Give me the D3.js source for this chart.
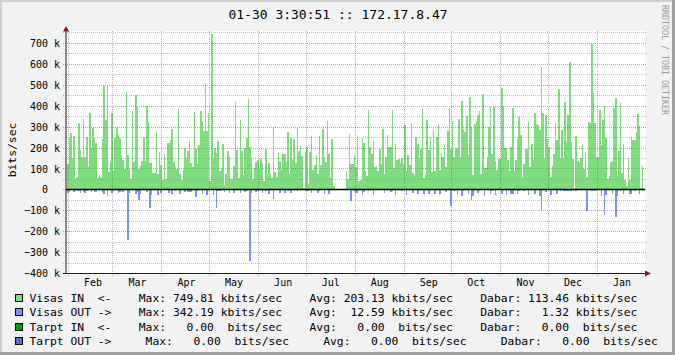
<!DOCTYPE html>
<html>
<head>
<meta charset="utf-8">
<script src="https://cdn.jsdelivr.net/npm/d3@7"></script>
<style>
  html, body { margin: 0; padding: 0; background: #fff; }
  svg { display: block; }
  text { font-family: "DejaVu Sans Mono", monospace; white-space: pre; }
</style>
</head>
<body>
<script>
// daily traffic, kbits/sec, one array per month (first one is the last day of the previous January)
const inJan17 = [124];
const inFeb = [250,271,150,257,52,60,319,190,155,338, 155,252,110,367,198,297,248,224,56,71, 63,243,495,333,495,86,135,367];
const inMar = [92,246,300,262,248,167,143,100,467,167, 100,52,376,133,452,398,100,114,138,252, 138,400,324,129,129,81,81,281,78,181, 119];
const inApr = [48,171,52,224,224,237,290,133,110,100, 386,78,48,95,198,152,186,233,129,110, 371,195,124,214,376,324,281,509,281,365];
const inMay = [43,747,148,198,176,233,90,100,219,24, 76,186,157,52,52,114,419,190,57,333, 186,71,200,248,433,205,148,52,105,133, 143];
const inJun = [100,148,129,43,195,76,129,76,57,300, 86,62,176,138,95,171,171,133,276,76, 248,148,243,129,295,186,210,162,10,181];
const inJul = [205,29,181,257,95,119,167,76,257,119, 290,157,133,329,171,62,243,19,0,0, 0,0,0,0,0,90,52,267,124,124, 167];
const inAug = [110,257,43,48,248,224,90,67,381,205, 171,233,110,114,90,195,124,290,76,157, 262,205,205,381,105,219,143,148,129,152, 124];
const inSep = [310,92,167,119,319,81,71,252,219,148, 195,386,57,71,333,190,252,86,286,90, 252,310,95,176,157,214,110,281,390,195];
const inOct = [329,157,200,195,338,157,424,290,276,352, 167,443,300,71,314,329,357,376,76,457, 105,105,157,300,400,171,395,138,95,148, 148];
const inNov = [486,400,202,200,143,92,205,390,92,143, 243,348,262,62,124,195,195,324,110,219, 143,367,314,310,286,586,367,152,357,243];
const inDec = [205,60,114,171,319,238,481,152,287,152, 419,229,357,610,229,148,5,257,138,129, 152,214,100,181,59,322,319,697,462,319, 157];
const inJan18 = [157,381,214,332,400,248,52,67,133,138, 390,440,67,186,414,81,219,48,16,152, 48,252,238,238,276,362,305,10,114,10];

const outJan17 = [17];
const outFeb = [8,0,0,11,0,0,6,16,0,8, 14,6,0,0,11,0,8,8,0,0, 0,11,21,0,30,0,0,14];
const outMar = [6,0,0,14,8,6,11,0,0,240, 14,0,0,0,21,8,49,21,0,0, 0,11,0,87,25,0,0,0,25,0, 16];
const outApr = [0,0,0,0,16,0,21,0,6,0, 0,21,0,0,11,0,11,11,11,0, 0,35,6,0,0,21,0,0,25,6];
const outMay = [0,0,25,0,87,6,6,0,0,11, 0,0,16,0,0,16,0,0,0,16, 0,0,11,6,0,341,16,0,0,11, 6];
const outJun = [0,0,16,0,6,0,21,0,0,44, 0,0,0,16,0,0,16,0,6,0, 16,0,0,0,6,0,0,3,0,6];
const outJul = [6,6,0,16,0,0,0,16,6,0, 0,21,0,0,21,0,0,0,0,0, 0,0,0,0,0,0,0,0,54,0, 6];
const outAug = [16,16,0,0,25,11,0,0,6,0, 0,25,0,0,0,0,0,0,16,0, 0,0,11,6,0,25,0,0,0,6, 0];
const outSep = [0,25,0,0,0,16,0,0,21,0, 0,0,21,0,0,21,6,0,0,21, 0,0,21,0,0,0,11,0,0,78];
const outOct = [0,6,0,21,0,0,30,6,0,0, 21,0,49,30,0,0,16,6,0,0, 30,0,0,0,21,6,0,25,0,0, 0];
const outNov = [21,6,0,25,0,0,21,21,0,0, 21,6,0,0,6,0,0,25,0,0, 0,21,0,0,30,97,0,0,11,0];
const outDec = [0,25,0,0,0,21,0,6,0,6, 6,6,6,6,6,0,0,6,0,0, 0,0,0,0,102,0,0,6,0,6, 0];
const outJan18 = [0,0,30,0,121,25,0,0,0,21, 0,130,30,0,6,0,21,0,0,0, 21,21,0,6,0,0,21,0,6,0];

const inMonths = [inJan17, inFeb, inMar, inApr, inMay, inJun, inJul, inAug, inSep, inOct, inNov, inDec, inJan18];
const outMonths = [outJan17, outFeb, outMar, outApr, outMay, outJun, outJul, outAug, outSep, outOct, outNov, outDec, outJan18];

const yTicks = [-400,-300,-200,-100,0,100,200,300,400,500,600,700];
const monthLabels = ['Feb','Mar','Apr','May','Jun','Jul','Aug','Sep','Oct','Nov','Dec','Jan'];

const titleText = '01-30 3:30:51 :: 172.17.8.47';
const yTitle = 'bits/sec';
const watermark = 'RRDTOOL / TOBI OETIKER';

const legendNames = ['Visas IN  <-', 'Visas OUT ->', 'Tarpt IN  <-', 'Tarpt OUT ->'];
const legendColors = ['#7fdd7f', '#7f8fff', '#00a000', '#5070c0'];
const legendMax = [749.81, 342.19, 0, 0];
const legendAvg = [203.13, 12.59, 0, 0];
const legendNow = [113.46, 1.32, 0, 0];
const legendPrefix = ['k', 'k', ' ', ' '];
const legendGap = [4, 4, 4, 5];

const W = 675, H = 355;
const svg = d3.select('body').append('svg').attr('width', W).attr('height', H);

// frame
svg.append('rect').attr('width', W).attr('height', H).attr('fill', '#f2f2f2');
svg.append('rect').attr('width', W).attr('height', 2).attr('fill', '#cfcfcf');
svg.append('rect').attr('width', 2).attr('height', H).attr('fill', '#cfcfcf');
svg.append('rect').attr('x', W - 3).attr('width', 3).attr('height', H).attr('fill', '#9e9e9e');
svg.append('rect').attr('y', H - 3).attr('width', W).attr('height', 3).attr('fill', '#9e9e9e');

const tStart = new Date(Date.UTC(2017, 0, 30, 3, 30, 51));
const tEnd = new Date(Date.UTC(2018, 0, 30, 3, 30, 51));
const x = d3.scaleUtc().domain([tStart, tEnd]).range([65.6, 643.7]);
const y = d3.scaleLinear().domain([-400, 757]).range([273.5, 31.5]);

// canvas
svg.append('rect').attr('x', 66).attr('y', 31).attr('width', 579).attr('height', 243).attr('fill', '#fff');

// flatten months into daily points
const monthStarts = [new Date(Date.UTC(2017, 0, 31))].concat(
  d3.utcMonth.range(new Date(Date.UTC(2017, 1, 1)), new Date(Date.UTC(2018, 0, 2))));
const days = [];
inMonths.forEach((arr, m) => {
  arr.forEach((v, k) => {
    days.push({t: d3.utcDay.offset(monthStarts[m], k), vin: v, vout: outMonths[m][k]});
  });
});
const last = days[days.length - 1];
days.push({t: d3.utcDay.offset(last.t, 1), vin: last.vin, vout: last.vout});

svg.append('clipPath').attr('id', 'plotclip')
  .append('rect').attr('x', x(tStart)).attr('y', 25)
  .attr('width', x(tEnd) - x(tStart)).attr('height', 260);

const plot = svg.append('g').attr('clip-path', 'url(#plotclip)');

const areaIn = d3.area().curve(d3.curveStepAfter)
  .x(d => x(d.t)).y0(y(0)).y1(d => y(d.vin));
const areaOut = d3.area().curve(d3.curveStepAfter)
  .x(d => x(d.t)).y0(y(0)).y1(d => y(-d.vout));

plot.append('path').datum(days).attr('d', areaIn)
  .attr('fill', legendColors[0]).attr('shape-rendering', 'crispEdges');
plot.append('path').datum(days).attr('d', areaOut)
  .attr('fill', legendColors[1]).attr('shape-rendering', 'crispEdges');

// grid
const snap = v => Math.floor(v) + 0.5;
const grid = svg.append('g');
const minor = d3.range(-350, 757, 100);
grid.selectAll('.minor').data(minor).enter().append('line')
  .attr('x1', 63).attr('x2', 646)
  .attr('y1', d => snap(y(d))).attr('y2', d => snap(y(d)))
  .attr('stroke', 'rgba(143,143,143,0.55)').attr('stroke-dasharray', '1,1');
grid.selectAll('.major').data(yTicks.filter(d => d !== -400)).enter().append('line')
  .attr('x1', 63).attr('x2', 646)
  .attr('y1', d => snap(y(d))).attr('y2', d => snap(y(d)))
  .attr('stroke', 'rgba(222,79,79,0.6)').attr('stroke-dasharray', '1,1');
const monthTicks = d3.utcMonth.range(tStart, tEnd);
grid.selectAll('.vmajor').data(monthTicks).enter().append('line')
  .attr('x1', d => snap(x(d))).attr('x2', d => snap(x(d)))
  .attr('y1', 31).attr('y2', 277)
  .attr('stroke', 'rgba(222,79,79,0.6)').attr('stroke-dasharray', '1,1');

// zero line
svg.append('line').attr('x1', 66).attr('x2', 645)
  .attr('y1', snap(y(0))).attr('y2', snap(y(0)))
  .attr('stroke', '#000').attr('stroke-width', 1.3);

// axes
svg.append('line').attr('x1', 66).attr('x2', 66).attr('y1', 274).attr('y2', 30)
  .attr('stroke', '#1f1f1f').attr('stroke-width', 1);
svg.append('line').attr('x1', 63).attr('x2', 646).attr('y1', 273.5).attr('y2', 273.5)
  .attr('stroke', '#1f1f1f').attr('stroke-width', 1);
svg.append('polygon').attr('points', '63,31.5 69,31.5 66,26')
  .attr('fill', '#801f1f');
svg.append('polygon').attr('points', '645,270.5 645,276.5 651,273.5')
  .attr('fill', '#801f1f');

// y labels
svg.append('g').selectAll('text').data(yTicks).enter().append('text')
  .attr('x', 60).attr('y', d => y(d) + 3.6)
  .attr('text-anchor', 'end').attr('font-size', 10)
  .text(d => d === 0 ? '0  ' : d3.format('d')(d) + ' k');

// x labels
svg.append('g').selectAll('text').data(monthTicks).enter().append('text')
  .attr('x', d => x(d3.utcHour.offset(d, 15 * 24 + 12)))
  .attr('y', 285.5).attr('text-anchor', 'middle').attr('font-size', 10)
  .text((d, i) => monthLabels[i]);

// title
svg.append('text').attr('x', 338).attr('y', 18.5).attr('text-anchor', 'middle')
  .attr('font-size', 13).text(titleText);

// y title
svg.append('text').attr('transform', 'translate(16,150) rotate(-90)')
  .attr('text-anchor', 'middle').attr('font-size', 11.35).text(yTitle);

// watermark
svg.append('text').attr('transform', 'translate(662,5) rotate(90)')
  .attr('font-size', 8.3).attr('fill', '#9a9a9a').text(watermark);

// legend
const fmt = d3.format('6.2f');
const legendLines = legendNames.map((name, i) => {
  const gap = ' '.repeat(legendGap[i]);
  const unit = legendPrefix[i] + 'bits/sec';
  return name + gap + 'Max: ' + fmt(legendMax[i]) + ' ' + unit + gap +
    'Avg: ' + fmt(legendAvg[i]) + ' ' + unit + gap +
    'Dabar: ' + fmt(legendNow[i]) + ' ' + unit;
});
const legend = svg.append('g');
const rowY = i => 294 + Math.round(i * 14.4);
legend.selectAll('rect').data(legendColors).enter().append('rect')
  .attr('x', 15.5).attr('y', (d, i) => rowY(i) + 0.5)
  .attr('width', 7).attr('height', 7)
  .attr('fill', d => d).attr('stroke', '#000').attr('stroke-width', 1);
legend.selectAll('text').data(legendLines).enter().append('text')
  .attr('x', 29.5).attr('y', (d, i) => rowY(i) + 8.2)
  .attr('font-size', 11.35).text(d => d);
</script>
</body>
</html>
